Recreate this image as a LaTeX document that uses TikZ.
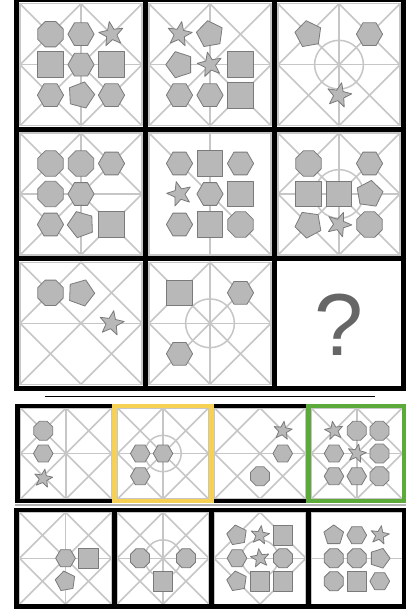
\documentclass[tikz,border=0pt]{standalone}
\usepackage{fontspec}
\setmainfont{Liberation Sans}
\definecolor{lineg}{HTML}{C6C6C6}
\definecolor{shapefill}{HTML}{B8B8B8}
\definecolor{shapeedge}{HTML}{7A7A7A}
\definecolor{qgray}{HTML}{666666}
\definecolor{yelc}{HTML}{F7D154}
\definecolor{grnc}{HTML}{5BAA3A}
% grid-line macros (unit cell, half size 1)
\newcommand\zF{\draw[gl] (-1,-1) rectangle (1,1);}
\newcommand\zV{\draw[gl] (0,-1) -- (0,1);}
\newcommand\zH{\draw[gl] (-1,0) -- (1,0);}
\newcommand\zX{\draw[gl] (-1,-1) -- (1,1) (-1,1) -- (1,-1);}
\newcommand\zXa{\draw[gl] (-1,-1) -- (1,1);}
\newcommand\zD{\draw[gl] (0,-1) -- (1,0) -- (0,1) -- (-1,0) -- cycle;}
\newcommand\zC{\draw[gl] (0,0) circle (0.4);}
\newcommand\zFull{\zF\zX\zD\zV\zH}
% shapes
\newcommand\zPg[5]{\pgfmathtruncatemacro\zNm{#1-1}%
  \draw[sh] (#4,#5) +(#3:#2) foreach \k in {1,...,\zNm} { -- +({#3+360/#1*\k}:#2) } -- cycle;}
\newcommand\zHex[2]{\zPg{6}{0.215}{0}{#1}{#2}}
\newcommand\zOct[2]{\zPg{8}{0.225}{22.5}{#1}{#2}}
\newcommand\zPen[3][-90]{\zPg{5}{0.225}{#1}{#2}{#3}}
\newcommand\zSq[2]{\draw[sh] (#1,#2) +(-0.21,-0.21) rectangle +(0.21,0.21);}
\newcommand\zStar[3][0]{\draw[sh] (#2,#3) +({-90+#1}:0.21) foreach \a/\r in {36/0.09,72/0.21,108/0.09,144/0.21,180/0.09,216/0.21,252/0.09,288/0.21,324/0.09}{ -- +({-90+#1+\a}:\r) } -- cycle;}
\newcommand\zCell[4]{\begin{scope}[shift={(#1,#2)},scale=#3]#4\end{scope}}
\begin{document}
\begin{tikzpicture}[x=1pt,y=-1pt,
  gl/.style={draw=lineg,line width=1.5pt},
  sh/.style={draw=shapeedge,fill=shapefill,line width=0.8pt,line join=round},
  blk/.style={draw=black,line width=5pt},
  abox/.style={line width=4.5pt}]
\fill[white] (0,0) rectangle (406,610);
\useasboundingbox (0,0) rectangle (406,610);
% ---------- main matrix ----------
\zCell{81}{64.7}{61}{\zFull
  \zOct{-.5}{-.5}\zHex{0}{-.5}\zStar[-10]{.5}{-.5}
  \zSq{-.5}{0}\zHex{0}{0}\zSq{.5}{0}
  \zHex{-.5}{.5}\zPen[-75]{0}{.5}\zHex{.5}{.5}}
\zCell{210}{64.7}{61}{\zFull
  \zStar[10]{-.5}{-.5}\zPen[-100]{0}{-.5}
  \zPen[180]{-.5}{0}\zStar[-12]{0}{0}\zSq{.5}{0}
  \zHex{-.5}{.5}\zHex{0}{.5}\zSq{.5}{.5}}
\zCell{339}{64.7}{61}{\zFull\zC
  \zPen[-100]{-.5}{-.5}\zHex{.5}{-.5}\zStar[12]{0}{.5}}
\zCell{81}{194}{61}{\zFull
  \zOct{-.5}{-.5}\zOct{0}{-.5}\zHex{.5}{-.5}
  \zOct{-.5}{0}\zHex{0}{0}
  \zHex{-.5}{.5}\zPen[-110]{0}{.5}\zSq{.5}{.5}}
\zCell{210}{194}{61}{\zF\zV\zXa
  \zHex{-.5}{-.5}\zSq{0}{-.5}\zHex{.5}{-.5}
  \zStar[-15]{-.5}{0}\zHex{0}{0}\zSq{.5}{0}
  \zHex{-.5}{.5}\zSq{0}{.5}\zOct{.5}{.5}}
\zCell{339}{194}{61}{\zFull\zC
  \zOct{-.5}{-.5}\zHex{.5}{-.5}
  \zSq{-.5}{0}\zSq{0}{0}\zPen[-10]{.5}{0}
  \zPen[170]{-.5}{.5}\zStar[20]{0}{.5}\zOct{.5}{.5}}
\zCell{81}{323.3}{61}{\zF\zX\zD\zH
  \zOct{-.5}{-.5}\zPen[-70]{0}{-.5}\zStar[10]{.5}{0}}
\zCell{210}{323.3}{61}{\zFull\zC
  \zSq{-.5}{-.5}\zHex{.5}{-.5}\zHex{-.5}{.5}}
\node[text=qgray,font=\fontsize{88}{88}\selectfont,inner sep=0pt] (q) at (339,325) {?};
% black grid
\draw[blk] (16.5,0) rectangle (403.5,388);
\draw[blk] (145.5,0) -- (145.5,388) (274.5,0) -- (274.5,388)
           (16.5,129.3) -- (403.5,129.3) (16.5,258.6) -- (403.5,258.6);
% separator line
\draw[line width=1.5pt] (45,396.7) -- (375,396.7);
% ---------- answer row 1 ----------
\zCell{66}{453.5}{45.5}{\zFull
  \zOct{-.5}{-.5}\zHex{-.5}{0}\zStar[10]{-.5}{.55}}
\zCell{163}{453.5}{45.5}{\zFull\zC
  \zHex{-.5}{0}\zHex{0}{0}\zHex{-.5}{.5}}
\zCell{260}{453.5}{45.5}{\zF\zX\zD\zH
  \zStar[8]{.5}{-.5}\zHex{.5}{0}\zOct{0}{.5}}
\zCell{356.75}{453.5}{45.5}{\zFull
  \zStar[-10]{-.5}{-.5}\zOct{0}{-.5}\zOct{.5}{-.5}
  \zHex{-.5}{0}\zStar[12]{0}{0}\zOct{.5}{0}
  \zHex{-.5}{.5}\zHex{0}{.5}\zOct{.5}{.5}}
\draw[abox,black] (17.5,406) rectangle (114.5,501);
\draw[abox,black] (211.5,406) rectangle (308.5,501);
\draw[abox,yelc] (114.5,406) rectangle (211.5,501);
\draw[abox,grnc] (308.5,406) rectangle (404,501);
\draw[line width=1.8pt,draw=gray!60] (15,505) -- (406,505);
% ---------- answer row 2 ----------
\zCell{65.5}{558.25}{46}{\zFull
  \zHex{0}{0}\zSq{.5}{0}\zPen[-100]{0}{.5}}
\zCell{163}{558.25}{46}{\zFull\zC
  \zOct{-.5}{0}\zOct{.5}{0}\zSq{0}{.5}}
\zCell{260}{558.25}{46}{\zF\zD\zH\zC
  \zPen[-100]{-.5}{-.5}\zStar[8]{0}{-.5}\zSq{.5}{-.5}
  \zHex{-.5}{0}\zStar[-8]{0}{0}\zOct{.5}{0}
  \zPen[-100]{-.5}{.5}\zSq{0}{.5}\zSq{.5}{.5}}
\zCell{356.75}{558.25}{46}{\zF\zH
  \zPen[-90]{-.5}{-.5}\zHex{0}{-.5}\zStar[10]{.5}{-.5}
  \zOct{-.5}{0}\zOct{0}{0}\zPen[0]{.5}{0}
  \zOct{-.5}{.5}\zSq{0}{.5}\zHex{.5}{.5}}
\draw[abox,black] (16.5,510) rectangle (404,606.5);
\draw[abox,black] (114.5,510) -- (114.5,606.5) (211.5,510) -- (211.5,606.5) (308.5,510) -- (308.5,606.5);
\end{tikzpicture}
\end{document}
